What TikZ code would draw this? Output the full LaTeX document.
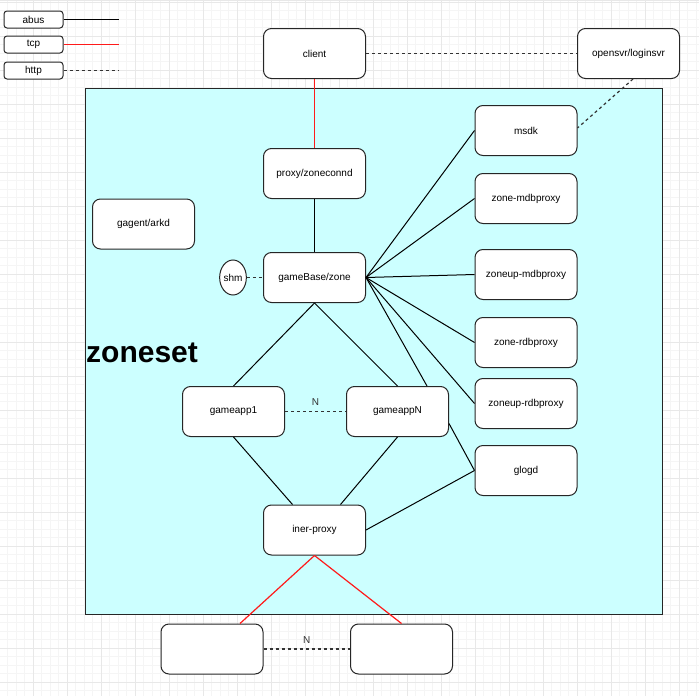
\documentclass[tikz,border=0pt]{standalone}
\usepackage{fontspec}
\setmainfont{Liberation Sans}
\usetikzlibrary{shapes.geometric}
\definecolor{cyanbg}{HTML}{CCFFFF}
\definecolor{gridminor}{HTML}{F5F5F5}
\definecolor{gridmajor}{HTML}{E8E8E8}
\definecolor{dashc}{HTML}{333333}
\definecolor{tcpred}{HTML}{FF1A1A}
\tikzset{
  box/.style={draw=black!85, line width=1pt, fill=white, rounded corners=8pt,
    minimum width=102pt, minimum height=50pt, inner sep=0pt,
    font=\fontsize{10}{12}\selectfont},
  legbox/.style={draw=black!85, line width=1pt, fill=white, rounded corners=3pt,
    minimum width=59pt, minimum height=17pt, inner sep=0pt,
    font=\fontsize{10}{12}\selectfont},
  abusline/.style={draw=black, line width=1pt},
  tcpline/.style={draw=tcpred, line width=1.2pt},
  httpline/.style={draw=dashc, line width=1.2pt, dash pattern=on 3pt off 3pt},
  lbl/.style={font=\fontsize{10}{12}\selectfont, text=black!80, inner sep=0pt},
}
\begin{document}
\begin{tikzpicture}[x=1pt,y=-1pt]
\useasboundingbox (0,0) rectangle (699,696);
\fill[white] (0,0) rectangle (699,696);
% grid
\foreach \i in {0,...,83} {
  \draw[gridminor, line width=0.8pt] (\i*8.5-0.7,0) -- (\i*8.5-0.7,696);
  \draw[gridminor, line width=0.8pt] (0,\i*8.5+2.3) -- (699,\i*8.5+2.3);
}
\foreach \i in {0,...,21} {
  \draw[gridmajor, line width=0.8pt] (\i*34-0.7,0) -- (\i*34-0.7,696);
  \draw[gridmajor, line width=0.8pt] (0,\i*34+2.3) -- (699,\i*34+2.3);
}
\draw[gridmajor, line width=1.5pt] (0,0.5) -- (699,0.5);

% zoneset area
\draw[fill=cyanbg, draw=black!85, line width=1pt] (85.5,88.5) rectangle (662.5,614.5);
\node[anchor=base west, inner sep=0pt, font=\fontsize{30}{36}\selectfont\bfseries] (zoneset) at (86,362) {zoneset};

% legend
\node[legbox] (abus) at (33.5,19.5) {abus};
\node[legbox] (tcp) at (33.5,44.5) {tcp};
\node[legbox] (http) at (33.5,70.5) {http};
\coordinate (abusE) at (119,19.5);
\coordinate (tcpE) at (119,44.5);
\coordinate (httpE) at (119,70.5);
\draw[abusline] (abus.east) -- (abusE);
\draw[tcpline] (tcp.east) -- (tcpE);
\draw[httpline] (http.east) -- (httpE);

% nodes
\node[box] (client) at (314.5,53.5) {client};
\node[box] (opensvr) at (628.5,53.5) {opensvr/loginsvr};
\node[box] (proxy) at (314.5,173.5) {proxy/zoneconnd};
\node[box] (gagent) at (143.5,224) {gagent/arkd};
\node[box] (gamebase) at (314.5,277.5) {gameBase/zone};
\node[draw=black!85, line width=1pt, fill=white, ellipse, minimum width=26pt, minimum height=35pt, inner sep=0pt, font=\fontsize{10}{12}\selectfont] (shm) at (233,277.5) {shm};

\node[box] (msdk) at (526,130.5) {msdk};
\node[box] (zmdb) at (526,198.5) {zone-mdbproxy};
\node[box] (zumdb) at (526,274.5) {zoneup-mdbproxy};
\node[box] (zrdb) at (526,342.5) {zone-rdbproxy};
\node[box] (zurdb) at (526,403.5) {zoneup-rdbproxy};
\node[box] (glogd) at (526,470.5) {glogd};

\node[box] (app1) at (233.5,411.5) {gameapp1};
\node[box] (appN) at (397.5,411.5) {gameappN};
\node[box] (iner) at (314.5,530) {iner-proxy};

\node[box] (out1) at (212,649) {};
\node[box] (out2) at (401.5,649) {};

% connectors
\draw[httpline] (client.east) -- (opensvr.west);
\draw[httpline] ([xshift=4.5pt]opensvr.south) -- ([yshift=2.5pt]msdk.east);
\draw[tcpline] (client.south) -- (proxy.north);
\draw[abusline] (proxy.south) -- (gamebase.north);
\draw[httpline] (shm.east) -- (gamebase.west);

\foreach \t in {msdk,zmdb,zumdb,zrdb,zurdb}
  \draw[abusline] (gamebase.east) -- (\t.west);
\draw[abusline] (gamebase.east) -- ([xshift=29.5pt]appN.north);

\draw[abusline] (gamebase.south) -- (app1.north);
\draw[abusline] (gamebase.south) -- (appN.north);
\draw[httpline] (app1.east) -- (appN.west) node[lbl, midway, above=5pt] {N};
\draw[abusline] (app1.south) -- ([xshift=-22pt]iner.north);
\draw[abusline] (appN.south) -- ([xshift=26pt]iner.north);
\draw[abusline] ([yshift=-12pt]appN.east) -- (glogd.west);
\draw[abusline] (iner.east) -- (glogd.west);

\draw[tcpline] (iner.south) -- ([xshift=28pt]out1.north);
\draw[tcpline] (iner.south) -- (out2.north);
\draw[httpline] (out1.east) -- (out2.west) node[lbl, midway, above=5pt] {N};
\end{tikzpicture}
\end{document}
